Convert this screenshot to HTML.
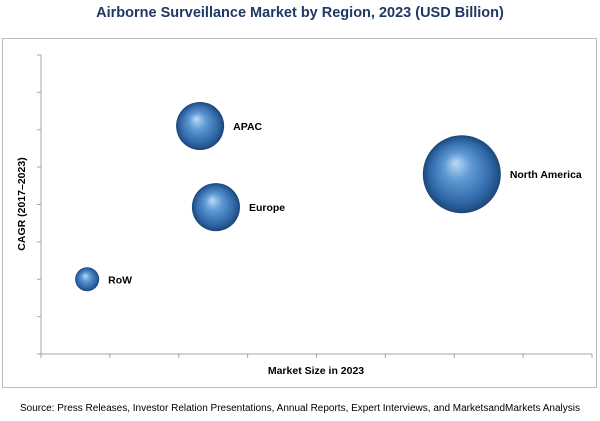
<!DOCTYPE html>
<html><head><meta charset="utf-8"><style>
body{margin:0;background:#fff;width:600px;height:416px;overflow:hidden;font-family:"Liberation Sans",sans-serif;}
</style></head><body>
<svg width="600" height="416" xmlns="http://www.w3.org/2000/svg">
<defs>
<radialGradient id="sph" cx="0.5" cy="0.5" r="0.5" fx="0.42" fy="0.35">
<stop offset="0" stop-color="#b9dcf6"/>
<stop offset="0.35" stop-color="#5f9ad4"/>
<stop offset="0.8" stop-color="#2f66a6"/>
<stop offset="1" stop-color="#1d4677"/>
</radialGradient>
</defs>
<text x="300" y="17" text-anchor="middle" font-size="14.5" font-weight="bold" fill="#1f3864">Airborne Surveillance  Market by Region, 2023 (USD Billion)</text>
<rect x="2.5" y="38.5" width="594" height="349" fill="none" stroke="#bdbdbd"/>
<g id="axes"></g>
<g id="bubbles"></g>
<text x="316" y="374" text-anchor="middle" font-size="10.5" font-weight="bold" fill="#000">Market Size in 2023</text>
<text transform="translate(25,204) rotate(-90)" text-anchor="middle" font-size="10.5" font-weight="bold" fill="#000">CAGR (2017–2023)</text>
<text x="300" y="411" text-anchor="middle" font-size="10" fill="#000" textLength="560" lengthAdjust="spacingAndGlyphs">Source: Press Releases, Investor Relation Presentations, Annual Reports, Expert Interviews, and MarketsandMarkets Analysis</text>
</svg>
<script>
const regions = ["APAC", "Europe", "North America", "RoW"];
const marketSize = [2.31, 2.54, 6.11, 0.67];
const cagr = [6.1, 3.93, 4.81, 2.0];
const bubbleSize = [3.8, 3.8, 10, 0.95];
const xTicks = [0,1,2,3,4,5,6,7,8];
const yTicks = [0,1,2,3,4,5,6,7,8];

const NS = "http://www.w3.org/2000/svg";
const X0 = 41, X1 = 592, Y0 = 354, Y1 = 55;
const xs = v => X0 + (v / 8) * (X1 - X0);
const ys = v => Y0 - (v / 8) * (Y0 - Y1);
const rs = v => 39 * Math.sqrt(v / 10);
function mk(tag, attrs, parent) {
  const e = document.createElementNS(NS, tag);
  for (const k in attrs) e.setAttribute(k, attrs[k]);
  parent.appendChild(e);
  return e;
}
const axes = document.getElementById('axes');
const xa = mk('line', {x1: X0, y1: Y0, x2: X1, y2: Y0, stroke: '#a6a6a6'}, axes);


const ya = mk('line', {x1: X0, y1: Y0, x2: X0, y2: Y1, stroke: '#a6a6a6'}, axes);


xTicks.forEach(t => {
  const l = mk('line', {x1: xs(t), y1: Y0, x2: xs(t), y2: Y0 + 4, stroke: '#a6a6a6'}, axes);
  
  
});
yTicks.forEach(t => {
  const l = mk('line', {x1: X0 - 4, y1: ys(t), x2: X0, y2: ys(t), stroke: '#a6a6a6'}, axes);
  
  
});
const bg = document.getElementById('bubbles');
regions.forEach((r, i) => {
  const cx = xs(marketSize[i]), cy = ys(cagr[i]), rad = rs(bubbleSize[i]);
  const c = mk('circle', {cx: cx, cy: cy, r: rad, fill: 'url(#sph)'}, bg);
  
  
  const t = mk('text', {x: cx + rad + 9, y: cy + 4, 'font-size': 10.5, 'font-weight': 'bold', fill: '#000'}, bg);
  t.textContent = r;
  
  
});
</script>
</body></html>
